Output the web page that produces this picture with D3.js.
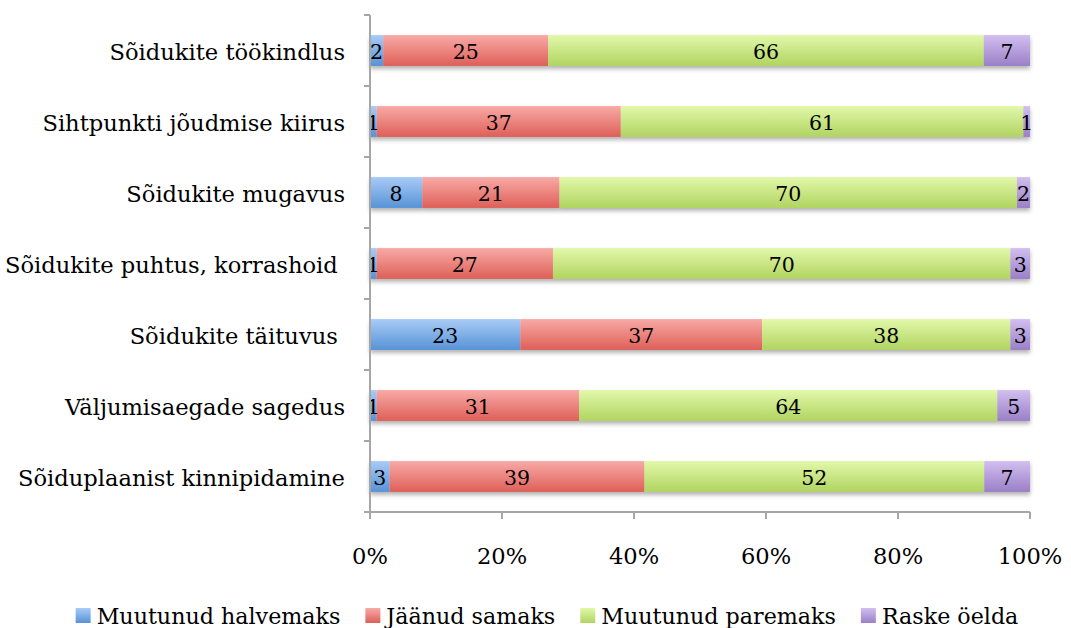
<!DOCTYPE html>
<html><head><meta charset="utf-8">
<script src="https://cdn.jsdelivr.net/npm/d3@7"></script>
<style>
html,body{margin:0;padding:0;background:#fff;}
svg text{font-family:"DejaVu Serif",serif;fill:#000;white-space:pre;}
</style></head>
<body>
<svg id="chart" width="1071" height="628"></svg>
<script>
const categories = [
  "Sõidukite töökindlus",
  "Sihtpunkti jõudmise kiirus",
  "Sõidukite mugavus",
  "Sõidukite puhtus, korrashoid ",
  "Sõidukite täituvus ",
  "Väljumisaegade sagedus",
  "Sõiduplaanist kinnipidamine"
];
const seriesNames = ["Muutunud halvemaks","Jäänud samaks","Muutunud paremaks","Raske öelda"];
const halvemaks = [2, 1, 8, 1, 23, 1, 3];
const samaks    = [25, 37, 21, 27, 37, 31, 39];
const paremaks  = [66, 61, 70, 70, 38, 64, 52];
const raske     = [7, 1, 2, 3, 3, 5, 7];
const tickLabels = ["0%","20%","40%","60%","80%","100%"];
const tickValues = [0, 0.2, 0.4, 0.6, 0.8, 1];

const colorsTop = ["#a9cbf7","#f8aaa6","#e2f8aa","#d2bff0"];
const colorsBot = ["#5793d6","#de5f58","#b0d461","#9a7fc6"];

const svg = d3.select("#chart");
const defs = svg.append("defs");
seriesNames.forEach((s,i)=>{
  const g = defs.append("linearGradient").attr("id","g"+i).attr("x1",0).attr("y1",0).attr("x2",0).attr("y2",1);
  g.append("stop").attr("offset","0%").attr("stop-color",colorsTop[i]);
  g.append("stop").attr("offset","100%").attr("stop-color",colorsBot[i]);
});
const f = defs.append("filter").attr("id","sh").attr("x","-5%").attr("y","-20%").attr("width","110%").attr("height","170%");
f.append("feDropShadow").attr("dx",0).attr("dy",3).attr("stdDeviation",2.2).attr("flood-color","#000").attr("flood-opacity",0.3);

const pL = 370, pR = 1030, pT = 15, pB = 512;
const x = d3.scaleLinear().domain([0,1]).range([pL,pR]);
const y = d3.scaleBand().domain(categories).range([pT,pB]).paddingInner(0.565).paddingOuter(0.2825);

const rows = categories.map((c,i)=>({cat:c, vals:[halvemaks[i],samaks[i],paremaks[i],raske[i]]}));
const axisFont = 22.6, dataFont = 20.5, legendFont = 22.2;

rows.forEach(r=>{
  const total = d3.sum(r.vals);
  let cum = 0;
  const g = svg.append("g").attr("filter","url(#sh)");
  const segs = r.vals.map((v,i)=>{const s={i,v,x0:cum/total,x1:(cum+v)/total}; cum+=v; return s;});
  g.selectAll("rect").data(segs).join("rect")
    .attr("x",d=>x(d.x0)).attr("width",d=>x(d.x1)-x(d.x0))
    .attr("y",y(r.cat)).attr("height",y.bandwidth())
    .attr("fill",d=>`url(#g${d.i})`);
  r.segs = segs;
});
rows.forEach(r=>{
  svg.append("g").selectAll("text").data(r.segs).join("text")
    .attr("x",d=>(x(d.x0)+x(d.x1))/2).attr("y",y(r.cat)+y.bandwidth()/2+1)
    .attr("text-anchor","middle").attr("dominant-baseline","central")
    .attr("font-size",dataFont).text(d=>d.v);
});

// y axis
const yAxis = svg.append("g");
yAxis.append("line").attr("x1",pL).attr("x2",pL).attr("y1",pT).attr("y2",pB).attr("stroke","#a6a6a6").attr("stroke-width",2);
const bounds = d3.range(categories.length+1).map(i=>pT+i*(pB-pT)/categories.length);
yAxis.selectAll("line.t").data(bounds).join("line").attr("class","t")
  .attr("x1",pL-6).attr("x2",pL).attr("y1",d=>d).attr("y2",d=>d).attr("stroke","#a6a6a6").attr("stroke-width",2);
yAxis.selectAll("text").data(categories).join("text")
  .attr("x",pL-25).attr("y",d=>y(d)+y.bandwidth()/2+1)
  .attr("text-anchor","end").attr("dominant-baseline","central")
  .attr("font-size",axisFont).text(d=>d);

// x axis
const xAxis = svg.append("g");
xAxis.append("line").attr("x1",pL).attr("x2",pR).attr("y1",pB).attr("y2",pB).attr("stroke","#a6a6a6").attr("stroke-width",2);
xAxis.selectAll("line.t").data(tickValues).join("line").attr("class","t")
  .attr("x1",d=>x(d)).attr("x2",d=>x(d)).attr("y1",pB).attr("y2",pB+7).attr("stroke","#a6a6a6").attr("stroke-width",2);
xAxis.selectAll("text").data(tickValues).join("text")
  .attr("x",d=>x(d)).attr("y",556)
  .attr("text-anchor","middle").attr("dominant-baseline","central")
  .attr("font-size",axisFont).text((d,i)=>tickLabels[i]);

// legend (laid out sequentially, centred)
const lg = svg.append("g");
const items = seriesNames.map((s,i)=>{
  const it = lg.append("g");
  it.append("rect").attr("x",0).attr("y",608).attr("width",15).attr("height",15).attr("fill",`url(#g${i})`);
  const t = it.append("text").attr("x",21).attr("y",616).attr("dominant-baseline","central")
    .attr("font-size",legendFont).text(s);
  return {it, w: 21 + t.node().getComputedTextLength()};
});
const gap = 25;
const totalW = d3.sum(items, d=>d.w) + gap*(items.length-1);
let cx = 547 - totalW/2;
items.forEach(d=>{ d.it.attr("transform",`translate(${cx},0)`); cx += d.w + gap; });
</script>
</body></html>
